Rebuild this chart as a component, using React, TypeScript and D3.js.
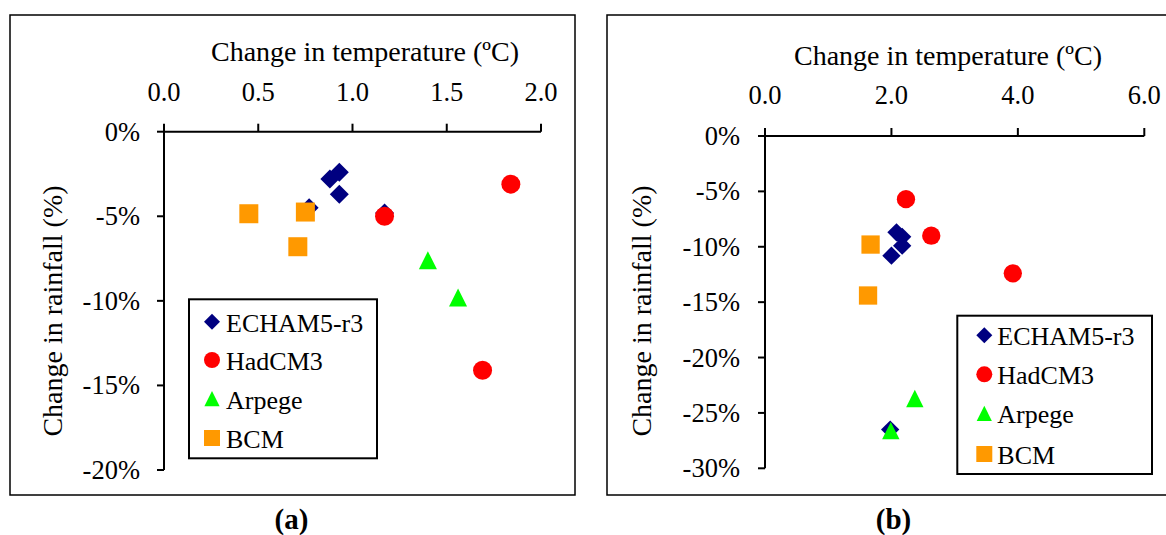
import React from "react";
import * as d3 from "d3";

// ---- data ----
const seriesNames = ["ECHAM5-r3", "HadCM3", "Arpege", "BCM"];
const seriesColors = ["#000080", "#FF0000", "#00FF00", "#FF9900"];
const seriesShapes = ["diamond", "circle", "triangle", "square"];

const xTicksA = [0, 0.5, 1.0, 1.5, 2.0];
const yTicksA = [0, -5, -10, -15, -20];
const xTicksB = [0, 2, 4, 6];
const yTicksB = [0, -5, -10, -15, -20, -25, -30];

// Panel (a)
const echamA_temp = [0.93, 0.88, 0.93, 0.77, 1.17];
const echamA_rain = [-2.4, -2.8, -3.7, -4.5, -4.8];
const hadA_temp = [1.84, 1.17, 1.69];
const hadA_rain = [-3.1, -5.0, -14.1];
const arpA_temp = [1.4, 1.56];
const arpA_rain = [-7.6, -9.8];
const bcmA_temp = [0.45, 0.75, 0.71];
const bcmA_rain = [-4.85, -4.75, -6.8];

// Panel (b)
const echamB_temp = [2.08, 2.17, 2.17, 2.0, 1.98];
const echamB_rain = [-8.7, -9.1, -9.9, -10.8, -26.5];
const hadB_temp = [2.23, 2.63, 3.92];
const hadB_rain = [-5.7, -9.0, -12.4];
const arpB_temp = [2.37, 1.99];
const arpB_rain = [-23.7, -26.6];
const bcmB_temp = [1.67, 1.63];
const bcmB_rain = [-9.8, -14.4];

const xTitle = "Change in temperature (ºC)";
const yTitle = "Change in rainfall (%)";

const FONT = "Liberation Serif, Tinos, Times New Roman, Times, DejaVu Serif, serif";

function markerPath(shape: string, s: number): string {
  const h = s / 2;
  if (shape === "diamond") return `M0,${-h}L${h},0L0,${h}L${-h},0Z`;
  if (shape === "square") return `M${-h},${-h}H${h}V${h}H${-h}Z`;
  if (shape === "triangle") {
    const t = h * 0.95;
    return `M0,${-t}L${t},${t}L${-t},${t}Z`;
  }
  return d3.symbol().type(d3.symbolCircle).size(Math.PI * h * h)() as string;
}

type PanelProps = {
  series: { temp: number[]; rain: number[] }[];
  xTicks: number[];
  yTicks: number[];
  xFmt: (v: number) => string;
  xRange: [number, number];
  yRange: [number, number];
  frame: { x: number; y: number; w: number; h: number };
  titleX: number;
  titleY: number;
  xLabelY: number;
  yLabelRight: number;
  yTitleX: number;
  yTitleY: number;
  legend: { x: number; y: number; w: number; h: number; mx: number; tx: number; rows: number[] };
  markerSize: number;
  caption: string;
  captionX: number;
};

function Panel(p: PanelProps) {
  const xs = d3.scaleLinear().domain([p.xTicks[0], p.xTicks[p.xTicks.length - 1]]).range(p.xRange);
  const ys = d3.scaleLinear().domain([p.yTicks[0], p.yTicks[p.yTicks.length - 1]]).range(p.yRange);
  const x0 = p.xRange[0];
  const y0 = p.yRange[0];
  return (
    <g style={{ fontFamily: FONT }}>
      <rect x={p.frame.x} y={p.frame.y} width={p.frame.w} height={p.frame.h} fill="white" stroke="black" strokeWidth={1.5} />
      <text x={p.titleX} y={p.titleY} fontSize={28} textAnchor="middle">{xTitle}</text>
      <text transform={`translate(${p.yTitleX},${p.yTitleY}) rotate(-90)`} fontSize={28} textAnchor="middle">{yTitle}</text>
      {/* axes */}
      <line x1={p.xRange[0]} x2={p.xRange[1]} y1={y0} y2={y0} stroke="black" strokeWidth={2} />
      <line x1={x0} x2={x0} y1={p.yRange[0]} y2={p.yRange[1]} stroke="black" strokeWidth={2} />
      {p.xTicks.map((t, i) => (
        <g key={"xt" + i}>
          <line x1={xs(t)} x2={xs(t)} y1={y0} y2={y0 - 8} stroke="black" strokeWidth={2} />
          <text x={xs(t)} y={p.xLabelY} fontSize={26.5} textAnchor="middle">{p.xFmt(t)}</text>
        </g>
      ))}
      {p.yTicks.map((t, i) => (
        <g key={"yt" + i}>
          <line x1={x0 - 7} x2={x0} y1={ys(t)} y2={ys(t)} stroke="black" strokeWidth={2} />
          <text x={p.yLabelRight} y={ys(t) + 9} fontSize={26.5} textAnchor="end">{`${t}%`}</text>
        </g>
      ))}
      {/* points */}
      {p.series.map((s, si) =>
        s.temp.map((v, i) => (
          <path
            key={`p${si}-${i}`}
            d={markerPath(seriesShapes[si], p.markerSize)}
            transform={`translate(${xs(v)},${ys(s.rain[i])})`}
            fill={seriesColors[si]}
          />
        ))
      )}
      {/* legend */}
      <rect x={p.legend.x} y={p.legend.y} width={p.legend.w} height={p.legend.h} fill="white" stroke="black" strokeWidth={2} />
      {seriesNames.map((n, i) => (
        <g key={"lg" + i}>
          <path d={markerPath(seriesShapes[i], 16)} transform={`translate(${p.legend.mx},${p.legend.rows[i]})`} fill={seriesColors[i]} />
          <text x={p.legend.tx} y={p.legend.rows[i] + 10} fontSize={26}>{n}</text>
        </g>
      ))}
      <text x={p.captionX} y={529} fontSize={29} fontWeight="bold" textAnchor="middle">{`(${p.caption})`}</text>
    </g>
  );
}

export default function App() {
  const seriesA = [
    { temp: echamA_temp, rain: echamA_rain },
    { temp: hadA_temp, rain: hadA_rain },
    { temp: arpA_temp, rain: arpA_rain },
    { temp: bcmA_temp, rain: bcmA_rain },
  ];
  const seriesB = [
    { temp: echamB_temp, rain: echamB_rain },
    { temp: hadB_temp, rain: hadB_rain },
    { temp: arpB_temp, rain: arpB_rain },
    { temp: bcmB_temp, rain: bcmB_rain },
  ];
  const fmt = d3.format(".1f");
  return (
    <svg width={1166} height={535} style={{ position: "absolute", left: 0, top: 0, background: "white" }}>
      <rect x={0} y={0} width={1166} height={535} fill="white" />
      <Panel
        series={seriesA}
        xTicks={xTicksA}
        yTicks={yTicksA}
        xFmt={fmt}
        xRange={[164, 541]}
        yRange={[131.7, 470]}
        frame={{ x: 10, y: 15, w: 565, h: 480 }}
        titleX={365}
        titleY={61}
        xLabelY={101}
        yLabelRight={140}
        yTitleX={62}
        yTitleY={311}
        legend={{ x: 189, y: 299.3, w: 188, h: 159, mx: 212, tx: 226, rows: [321.7, 360, 398.7, 438] }}
        markerSize={19}
        caption="a"
        captionX={291.5}
      />
      <Panel
        series={seriesB}
        xTicks={xTicksB}
        yTicks={yTicksB}
        xFmt={fmt}
        xRange={[765, 1144.3]}
        yRange={[136, 468.3]}
        frame={{ x: 607, y: 15, w: 600, h: 480 }}
        titleX={948}
        titleY={65}
        xLabelY={104.3}
        yLabelRight={740}
        yTitleX={651}
        yTitleY={311}
        legend={{ x: 957.3, y: 315.7, w: 194.7, h: 158.3, mx: 984.3, tx: 997.3, rows: [335.3, 374.3, 413.3, 454] }}
        markerSize={18.3}
        caption="b"
        captionX={893.5}
      />
    </svg>
  );
}
